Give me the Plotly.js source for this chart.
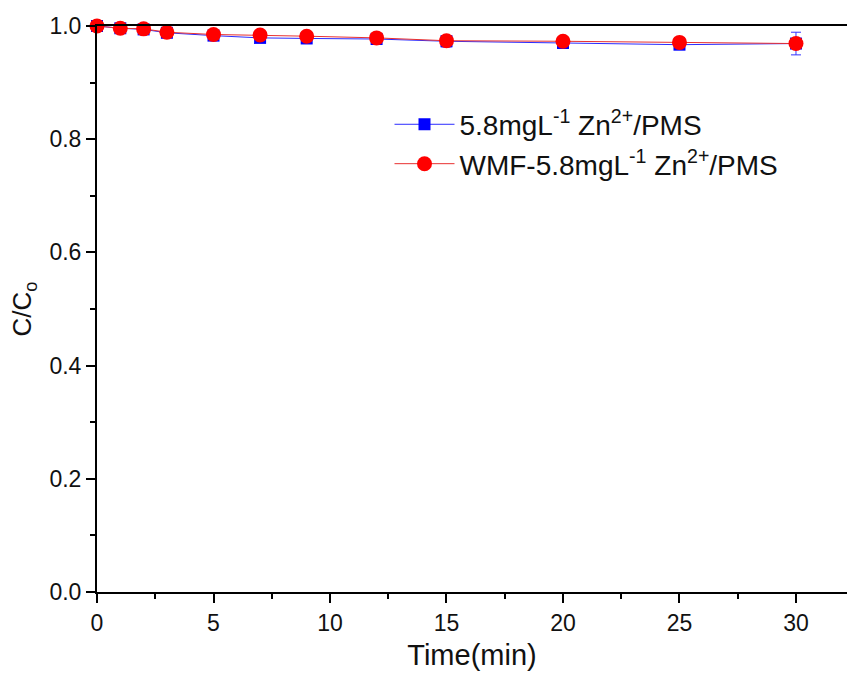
<!DOCTYPE html>
<html><head><meta charset="utf-8">
<script src="https://cdn.plot.ly/plotly-3.0.1.min.js"></script>
<style>html,body{margin:0;padding:0;background:#fff}</style>
</head><body>
<div id="chart" style="width:847px;height:680px"></div>
<script>
const time = [0, 1, 2, 3, 5, 7, 9, 12, 15, 20, 25, 30];
const blueY = [1.0, 0.996, 0.994, 0.988, 0.983, 0.979, 0.978, 0.977, 0.973, 0.970, 0.967, 0.969];
const blueErr = [0.002, 0.002, 0.003, 0.003, 0.004, 0.007, 0.009, 0.004, 0.010, 0.003, 0.003, 0.020];
const redY = [1.0, 0.996, 0.995, 0.989, 0.985, 0.984, 0.982, 0.979, 0.974, 0.973, 0.971, 0.969];
const redErr = [0.002, 0.002, 0.002, 0.003, 0.004, 0.004, 0.007, 0.003, 0.006, 0.003, 0.003, 0.008];
const name1 = "5.8mgL<sup>-1</sup> Zn<sup>2+</sup>/PMS";
const name2 = "WMF-5.8mgL<sup>-1</sup> Zn<sup>2+</sup>/PMS";

const traces = [
  {x: time, y: blueY, name: name1, type: 'scatter', mode: 'lines+markers', cliponaxis: false,
   line: {color: '#2b2bff', width: 1},
   marker: {symbol: 'square', size: 12, color: '#0000ff'},
   error_y: {type: 'data', array: blueErr, visible: true, color: '#3333ff', thickness: 1, width: 5}},
  {x: time, y: redY, name: name2, type: 'scatter', mode: 'lines+markers', cliponaxis: false,
   line: {color: '#e83030', width: 1},
   marker: {symbol: 'circle', size: 15, color: '#ff0000'},
   error_y: {type: 'data', array: redErr, visible: true, color: '#ff2020', thickness: 1, width: 5}}
];

const layout = {
  width: 847, height: 680,
  margin: {l: 97, r: 0, t: 26, b: 88},
  paper_bgcolor: '#fff', plot_bgcolor: '#fff',
  font: {family: 'Liberation Sans, Arial, sans-serif', color: '#111'},
  showlegend: true,
  legend: {x: 0.39, y: 0.87, xanchor: 'left', yanchor: 'top', bgcolor: 'rgba(0,0,0,0)',
           font: {size: 28, color: '#111'}, itemwidth: 60, tracegroupgap: 0},
  xaxis: {range: [0, 32.19], showgrid: false, zeroline: false, showline: true, linecolor: '#000', linewidth: 2,
          mirror: true, ticks: 'outside', ticklen: 9, tickwidth: 2, tickcolor: '#000', dtick: 5, tick0: 0,
          tickfont: {size: 23}, minor: {dtick: 2.5, ticks: 'outside', ticklen: 5, tickwidth: 2, tickcolor: '#000'},
          title: {text: 'Time(min)', font: {size: 29}, standoff: 10}},
  yaxis: {range: [0, 1.0], showgrid: false, zeroline: false, showline: true, linecolor: '#000', linewidth: 2,
          ticks: 'outside', ticklen: 9, tickwidth: 2, tickcolor: '#000', dtick: 0.2, tick0: 0,
          tickformat: '.1f', tickfont: {size: 23},
          minor: {dtick: 0.1, ticks: 'outside', ticklen: 5, tickwidth: 2, tickcolor: '#000'},
          title: {text: 'C/C<sub>o</sub>', font: {size: 26}, standoff: 10}}
};
Plotly.newPlot('chart', traces, layout, {displayModeBar: false});
</script>
</body></html>
